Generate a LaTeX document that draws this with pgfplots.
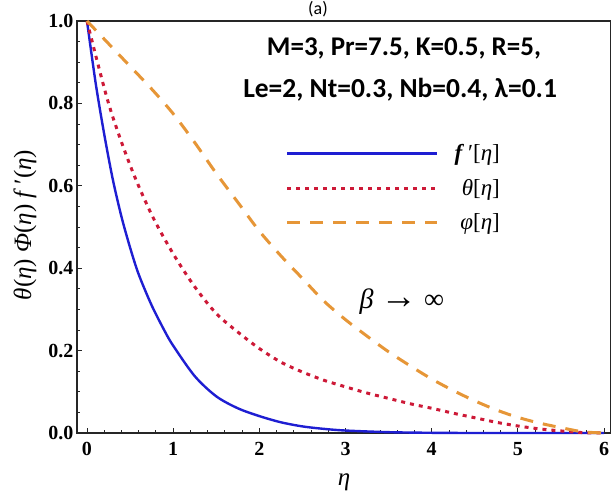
\documentclass[border=0pt]{standalone}
\usepackage{fontspec}
\setmainfont{Liberation Serif}
\newfontfamily\calibri{Carlito}
\usepackage{pgfplots}
\pgfplotsset{compat=1.18}

\definecolor{fblue}{RGB}{30,30,210}
\definecolor{thred}{RGB}{205,25,55}
\definecolor{phorange}{RGB}{230,150,55}

\begin{document}
\begin{tikzpicture}
\begin{axis}[
  at={(0,0)}, anchor=south west,
  scale only axis, width=534pt, height=412pt,
  xmin=-0.116, xmax=6.08, ymin=0, ymax=1,
  axis line style={black!85, line width=1.1pt},
  xtick={0,1,2,3,4,5,6}, ytick={0,0.2,0.4,0.6,0.8,1.0},
  minor x tick num=4, minor y tick num=3,
  xtick pos=left, ytick pos=left, tick align=inside,
  major tick length=5pt, minor tick length=3pt,
  every tick/.style={black!85, line width=0.9pt},
  ticklabel style={font=\fontsize{20}{24}\selectfont\bfseries},
  /pgf/number format/assume math mode=true,
  yticklabel style={/pgf/number format/.cd, fixed, fixed zerofill, precision=1},
  xticklabel style={yshift=-6pt},
  xlabel={\textit{η}},
  ylabel={\textit{θ}(\textit{η}) \textit{Φ}(\textit{η}) \textit{f}\,′(\textit{η})},
  label style={font=\fontsize{25}{28}\selectfont},
  x label style={at={(axis description cs:0.5,-0.119)}, anchor=center},
  y label style={at={(axis description cs:-0.0974,0.505)}, anchor=center, rotate=0},
  legend cell align=right,
  legend image code/.code={\draw[#1] (0pt,0pt) -- (150pt,0pt);},
  legend style={at={(rel axis cs:0.796,0.705)}, anchor=north east, draw=none, fill=none,
    font=\fontsize{23}{25}\selectfont, row sep=13pt, inner sep=0pt,
    /tikz/every odd column/.style={column sep=14pt}},
  clip=false,
]
\addplot[fblue, line width=2.4pt, smooth] coordinates {
  (0,1) (0.1,0.85) (0.2,0.725) (0.3,0.615) (0.4,0.525) (0.5,0.45) (0.6,0.385)
  (0.75,0.31) (0.9,0.248) (1.0,0.212) (1.25,0.138) (1.5,0.089) (1.75,0.060)
  (2.0,0.041) (2.25,0.026) (2.5,0.016) (2.75,0.010) (3.0,0.006) (3.5,0.002)
  (4.0,0.0005) (4.5,0) (5,0) (6,0)
};
\addlegendentry{\textbf{\textit{f}}\,′[\textit{η}]}
\addplot[thred, line width=3pt, dash pattern=on 4pt off 5pt, smooth] coordinates {
  (0,1) (0.25,0.80) (0.5,0.65) (0.75,0.53) (1.0,0.435) (1.25,0.355) (1.5,0.29)
  (1.75,0.245) (2.0,0.205) (2.25,0.172) (2.5,0.148) (2.75,0.128) (3.0,0.112)
  (3.25,0.097) (3.5,0.084) (3.75,0.071) (4.0,0.060) (4.25,0.048) (4.5,0.037)
  (4.75,0.026) (5.0,0.017) (5.25,0.010) (5.5,0.005) (5.75,0.001) (6.0,0)
};
\addlegendentry{\textit{θ}[\textit{η}]}
\addplot[phorange, line width=3pt, dash pattern=on 13pt off 10pt, smooth] coordinates {
  (0,1) (0.25,0.945) (0.5,0.89) (0.75,0.835) (1.0,0.775) (1.25,0.705) (1.5,0.63)
  (1.75,0.56) (2.0,0.49) (2.25,0.43) (2.5,0.375) (2.75,0.32) (3.0,0.275)
  (3.25,0.235) (3.5,0.197) (3.75,0.163) (4.0,0.131) (4.25,0.103) (4.5,0.078)
  (4.75,0.056) (5.0,0.038) (5.25,0.024) (5.5,0.013) (5.75,0.003) (6.0,0)
};
\addlegendentry{\textit{φ}[\textit{η}]}
\node[font=\calibri\bfseries\fontsize{27}{30}\selectfont] at (axis cs:3.678,0.933) {M=3, Pr=7.5, K=0.5, R=5,};
\node[font=\calibri\bfseries\fontsize{27.5}{30}\selectfont] at (axis cs:3.633,0.8325) {Le=2, Nt=0.3, Nb=0.4, λ=0.1};
\node[font=\fontsize{28}{30}\selectfont] at (axis cs:3.653,0.318) {\textit{β} \scalebox{1.3}{→} ∞};
\end{axis}
\node[font=\calibri\fontsize{18}{20}\selectfont, anchor=north, inner sep=1pt] at (241pt,433pt) {(a)};
\pgfresetboundingbox
\useasboundingbox (-77pt,-66pt) rectangle (534pt,433pt);
\end{tikzpicture}
\end{document}
